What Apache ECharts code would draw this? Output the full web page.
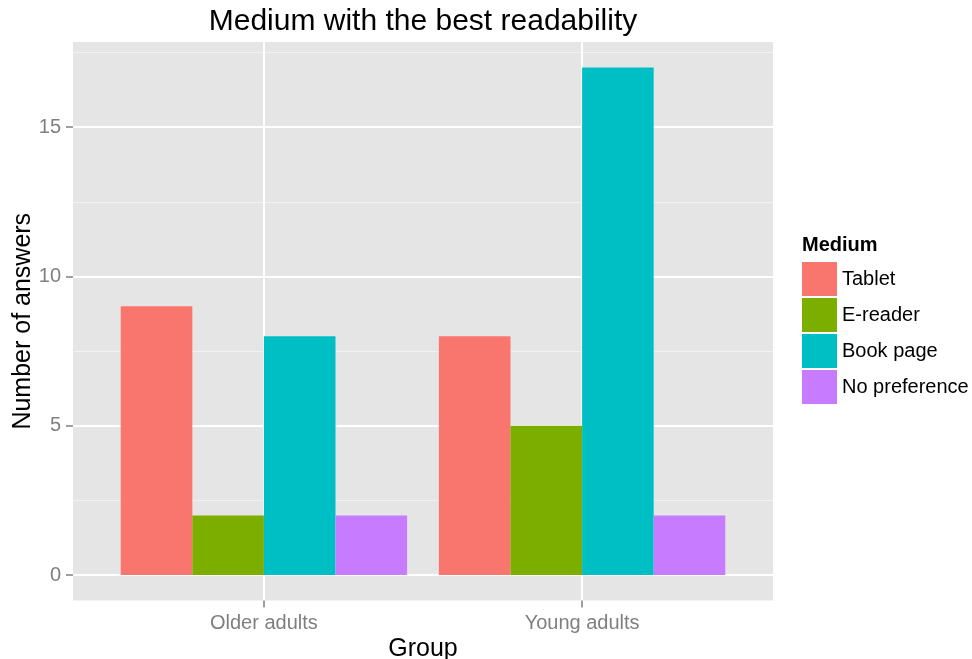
<!DOCTYPE html>
<html>
<head>
<meta charset="utf-8">
<script src="https://cdn.jsdelivr.net/npm/echarts@6/dist/echarts.min.js"></script>
<style>
html,body{margin:0;padding:0;background:#fff;}
#chart{width:972px;height:659px;}
</style>
</head>
<body>
<div id="chart"></div>
<script>
const categories = ['Older adults', 'Young adults'];
const groupPositions = [1, 2];
const mediums = ['Tablet', 'E-reader', 'Book page', 'No preference'];
const tablet = [9, 8];
const eReader = [2, 5];
const bookPage = [8, 17];
const noPreference = [2, 2];
const yTicks = [0, 5, 10, 15];
const colors = ['#F8766D', '#7CAE00', '#00BFC4', '#C77CFF'];

const seriesValues = [tablet, eReader, bookPage, noPreference];

const chart = echarts.init(document.getElementById('chart'), null, {renderer: 'canvas'});
const font = 'Liberation Sans, Arial, Helvetica, sans-serif';

const option = {
  animation: false,
  backgroundColor: '#ffffff',
  textStyle: {fontFamily: font},
  color: colors,
  title: [
    {
      text: 'Medium with the best readability',
      left: 423, top: 7, textAlign: 'center', padding: 0,
      textStyle: {fontSize: 30, fontWeight: 'normal', color: '#000', fontFamily: font}
    },
    {
      text: 'Medium',
      left: 802, top: 235, padding: 0,
      textStyle: {fontSize: 20, fontWeight: 'bold', color: '#000', fontFamily: font}
    }
  ],
  legend: {
    orient: 'vertical',
    left: 802, top: 262,
    padding: 0,
    itemWidth: 35, itemHeight: 34, itemGap: 2,
    icon: 'rect',
    data: mediums,
    textStyle: {fontSize: 20, color: '#000', fontFamily: font},
    selectedMode: false
  },
  grid: {
    left: 73, top: 42, width: 700, height: 558.5,
    show: true, backgroundColor: '#E5E5E5', borderWidth: 0,
    containLabel: false,
    outerBoundsMode: 'none'
  },
  xAxis: {
    type: 'value',
    min: 0.4, max: 2.6,
    minInterval: 1, maxInterval: 1,
    name: 'Group', nameLocation: 'middle', nameGap: 36, nameMoveOverlap: false,
    nameTextStyle: {fontSize: 25, color: '#000', fontFamily: font},
    axisLine: {show: false, onZero: false},
    axisTick: {show: true, length: 7, customValues: groupPositions, lineStyle: {color: '#7F7F7F', width: 1.5}},
    axisLabel: {
      customValues: groupPositions,
      color: '#7F7F7F', fontSize: 20, margin: 13, fontFamily: font,
      formatter: function (v) { const i = groupPositions.indexOf(v); return i >= 0 ? categories[i] : ''; }
    },
    splitLine: {show: true, lineStyle: {color: '#ffffff', width: 2}}
  },
  yAxis: [
    {
      type: 'value',
      min: -0.85, max: 17.85,
      minInterval: 5, maxInterval: 5,
      z: 1,
      name: 'Number of answers', nameLocation: 'middle', nameGap: 37, nameMoveOverlap: false,
      nameTextStyle: {fontSize: 25, color: '#000', fontFamily: font},
      axisLine: {show: false, onZero: false},
      axisTick: {show: true, length: 7, customValues: yTicks, lineStyle: {color: '#7F7F7F', width: 1.5}},
      axisLabel: {
        customValues: yTicks,
        color: '#7F7F7F', fontSize: 20, margin: 12, fontFamily: font,
        formatter: function (v) { return yTicks.indexOf(v) >= 0 ? String(v) : ''; }
      },
      splitLine: {show: true, lineStyle: {color: '#ffffff', width: 2}}
    },
    {
      type: 'value',
      min: -0.85, max: 17.85,
      minInterval: 2.5, maxInterval: 2.5,
      z: 0,
      axisLine: {show: false, onZero: false},
      axisTick: {show: false},
      axisLabel: {show: false},
      splitLine: {show: true, showMinLine: false, showMaxLine: false, lineStyle: {color: '#F2F2F2', width: 1}}
    }
  ],
  series: mediums.map(function (name, s) {
    return {
      name: name,
      type: 'bar',
      yAxisIndex: 0,
      barWidth: '22.5%',
      barGap: '0%',
      itemStyle: {color: colors[s], borderWidth: 0},
      data: groupPositions.map(function (x, i) { return [x, seriesValues[s][i]]; })
    };
  })
};
chart.setOption(option);
</script>
</body>
</html>
